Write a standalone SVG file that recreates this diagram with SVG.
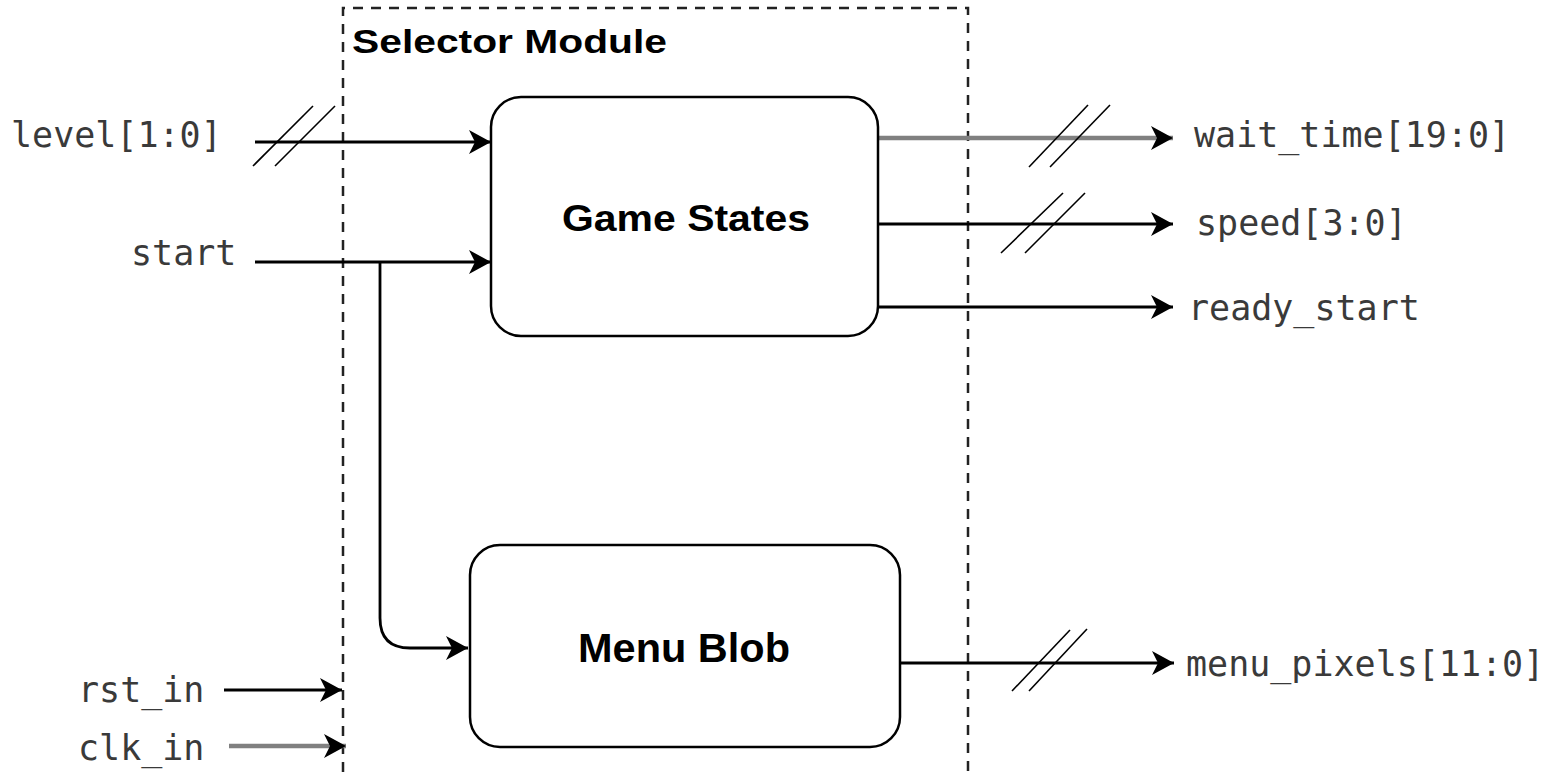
<svg xmlns="http://www.w3.org/2000/svg" width="1556" height="778" viewBox="0 0 1556 778">
<style>
.mono{font-family:"DejaVu Sans Mono","Liberation Mono",monospace;font-size:35px;fill:#3a3a3a}
.bold{font-family:"Liberation Sans",Arial,sans-serif;font-weight:bold;fill:#000}
.wire{stroke:#000;stroke-width:2.8;fill:none}
.gwire{stroke:#808080;stroke-width:4.5;fill:none}
.slash{stroke:#000;stroke-width:1.6;fill:none}
.box{fill:#fff;stroke:#000;stroke-width:2.5}
</style>
<defs>
<marker id="arr" markerUnits="userSpaceOnUse" markerWidth="24" markerHeight="26" viewBox="0 0 24 26" refX="22" refY="13" orient="auto">
<path d="M0,1 L22,13 L0,25 L6,13 Z" fill="#000"/>
</marker>
</defs>
<rect fill="#fff" width="1556" height="778"/>
<g id="module">
<path d="M343,790 V8 H968 V790" fill="none" stroke="#222" stroke-width="2.5" stroke-dasharray="10 8"/>
<text class="bold" x="352" y="53" font-size="34" textLength="315" lengthAdjust="spacingAndGlyphs">Selector Module</text>
</g>
<g id="connectors">
<line class="wire" x1="255" y1="142" x2="491" y2="142" marker-end="url(#arr)"/>
<line class="slash" x1="253" y1="166" x2="313" y2="106"/>
<line class="slash" x1="275" y1="166" x2="335" y2="106"/>
<line class="wire" x1="255" y1="262" x2="491" y2="262" marker-end="url(#arr)"/>
<path class="wire" d="M380,262 V618 Q380,648 410,648 H468" marker-end="url(#arr)"/>
<line class="wire" x1="224" y1="690" x2="342" y2="690" marker-end="url(#arr)"/>
<line class="gwire" x1="229" y1="746" x2="346" y2="746" marker-end="url(#arr)"/>
<line class="gwire" x1="878" y1="138" x2="1173" y2="138" marker-end="url(#arr)"/>
<line class="slash" x1="1029" y1="167" x2="1088" y2="105"/>
<line class="slash" x1="1050" y1="167" x2="1110" y2="105"/>
<line class="wire" x1="878" y1="224" x2="1173" y2="224" marker-end="url(#arr)"/>
<line class="slash" x1="1001" y1="253" x2="1063" y2="193"/>
<line class="slash" x1="1025" y1="253" x2="1085" y2="193"/>
<line class="wire" x1="878" y1="307" x2="1173" y2="307" marker-end="url(#arr)"/>
<line class="wire" x1="900" y1="663" x2="1174" y2="663" marker-end="url(#arr)"/>
<line class="slash" x1="1012" y1="691" x2="1070" y2="630"/>
<line class="slash" x1="1029" y1="691" x2="1087" y2="629"/>
</g>
<g id="game-states">
<rect class="box" x="491" y="97" width="387" height="239" rx="30"/>
<text class="bold" x="562" y="231" font-size="37" textLength="248" lengthAdjust="spacingAndGlyphs">Game States</text>
</g>
<g id="menu-blob">
<rect class="box" x="470" y="545" width="430" height="202" rx="30"/>
<text class="bold" x="578" y="662" font-size="41" textLength="212" lengthAdjust="spacingAndGlyphs">Menu Blob</text>
</g>
<g id="labels">
<text class="mono" x="11" y="147">level[1:0]</text>
<text class="mono" x="131" y="265">start</text>
<text class="mono" x="78" y="702">rst_in</text>
<text class="mono" x="78" y="760">clk_in</text>
<text class="mono" x="1194" y="147">wait_time[19:0]</text>
<text class="mono" x="1196" y="235">speed[3:0]</text>
<text class="mono" x="1188" y="320">ready_start</text>
<text class="mono" x="1186" y="676">menu_pixels[11:0]</text>
</g>
</svg>
